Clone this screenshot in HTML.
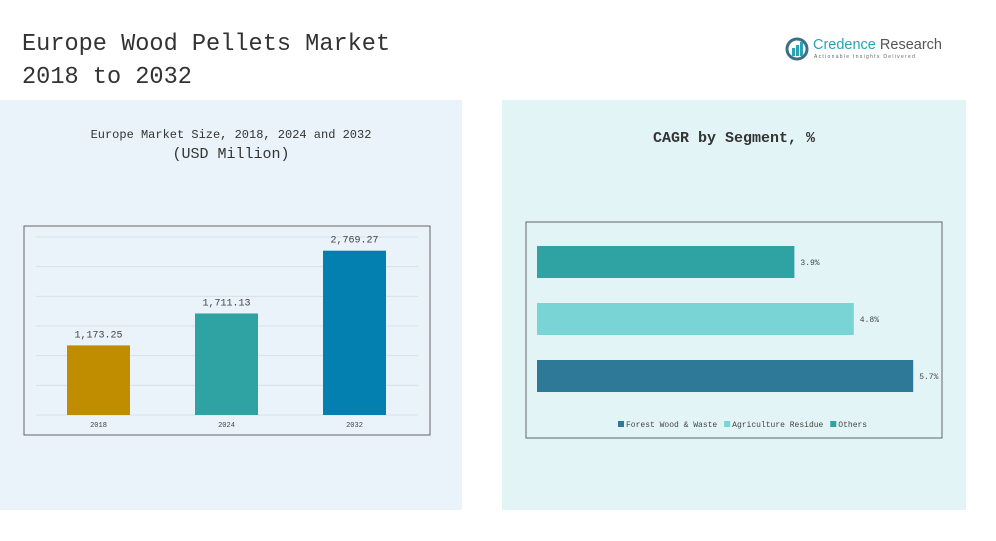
<!DOCTYPE html>
<html><head><meta charset="utf-8"><style>
body{margin:0;width:996px;height:541px;background:#fff;position:relative;overflow:hidden;font-family:"Liberation Mono","Noto Serif CJK SC",monospace;color:#333}
.abs{position:absolute}
</style></head><body>
<div class="abs" style="left:22px;top:28px;font-size:23.6px;line-height:33px;color:#333">Europe Wood Pellets Market<br>2018 to 2032</div>
<div class="abs" style="left:785px;top:37px;width:160px;height:30px">
<svg width="24" height="24" style="position:absolute;left:0;top:0"><circle cx="12" cy="12" r="10" fill="none" stroke="#3a6f86" stroke-width="3"/><rect x="7" y="11" width="3" height="8" fill="#2aa3b5"/><rect x="11" y="8" width="3" height="11" fill="#2aa3b5"/><rect x="15" y="5" width="3" height="14" fill="#2aa3b5"/></svg>
<div class="abs" style="left:28px;top:0;font-family:'Liberation Sans',sans-serif;font-size:14.5px;white-space:nowrap"><span style="color:#2aa3b5">Credence</span> <span style="color:#555">Research</span></div>
<div class="abs" style="left:29px;top:17px;font-family:'Liberation Sans',sans-serif;font-size:5px;letter-spacing:1.3px;color:#666;white-space:nowrap">Actionable Insights Delivered</div>
</div>
<div class="abs" style="left:0;top:100px;width:462px;height:410px;background:#e9f3f9"></div>
<div class="abs" style="left:502px;top:100px;width:464px;height:410px;background:#e3f4f6"></div>
<div class="abs" style="left:0;width:462px;top:128px;text-align:center;font-size:12px">Europe Market Size, 2018, 2024 and 2032</div>
<div class="abs" style="left:0;width:462px;top:146px;text-align:center;font-size:15px">(USD Million)</div>
<div class="abs" style="left:502px;width:464px;top:130px;text-align:center;font-size:15px;font-weight:bold">CAGR by Segment, %</div>
<svg class="abs" style="left:0;top:0" width="996" height="541" id="svg"></svg>
<script>
const years=["2018","2024","2032"];
const sizes=[1173.25,1711.13,2769.27];
const sizeLabels=["1,173.25","1,711.13","2,769.27"];
const barColors=["#c08d00","#2fa3a3","#0480b0"];
const segs=["Others","Agriculture Residue","Forest Wood & Waste"];
const cagr=[3.9,4.8,5.7];
const cagrLabels=["3.9%","4.8%","5.7%"];
const segColors=["#2fa3a3","#79d5d5","#2e7898"];
const legendNames=["Forest Wood & Waste","Agriculture Residue","Others"];
const legendColors=["#2e7898","#79d5d5","#2fa3a3"];
const NS="http://www.w3.org/2000/svg",svg=document.getElementById('svg');
function mk(t,a,p){const e=document.createElementNS(NS,t);for(const k in a)e.setAttribute(k,a[k]);(p||svg).appendChild(e);return e;}
const lb=mk('rect',{x:24,y:226,width:406,height:209,fill:'none',stroke:'#666','stroke-width':1});


const base=415,top0=237,maxV=3000;
const y=v=>base-(v/maxV)*(base-top0);
for(let i=0;i<=6;i++){const g=mk('line',{x1:36,x2:418,y1:y(i*500),y2:y(i*500),stroke:'#d6e2ea','stroke-width':1});

}
const xc=i=>98.5+i*128;
sizes.forEach((v,i)=>{
const r=mk('rect',{x:xc(i)-31.5,y:y(v),width:63,height:base-y(v),fill:barColors[i]});


const t=mk('text',{x:xc(i),y:y(v)-8,'text-anchor':'middle','font-size':10,fill:'#444'});t.textContent=sizeLabels[i];


const a=mk('text',{x:xc(i),y:427,'text-anchor':'middle','font-size':7,fill:'#444'});a.textContent=years[i];


});
const rb=mk('rect',{x:526,y:222,width:416,height:216,fill:'none',stroke:'#666','stroke-width':1});


const x0=537,pxPer=66;
cagr.forEach((v,i)=>{
const yy=246+i*57;
const r=mk('rect',{x:x0,y:yy,width:v*pxPer,height:32,fill:segColors[i]});


const t=mk('text',{x:x0+v*pxPer+6,y:yy+19,'font-size':8,fill:'#444'});t.textContent=cagrLabels[i];


});
let lx=618;
legendNames.forEach((n,i)=>{
const g=mk('g',{});


mk('rect',{x:lx,y:421,width:6,height:6,fill:legendColors[i]},g);
const t=mk('text',{x:lx+8,y:427,'font-size':8,fill:'#444'},g);t.textContent=n;
lx+=8+n.length*4.85+6;
});
</script>
</body></html>
